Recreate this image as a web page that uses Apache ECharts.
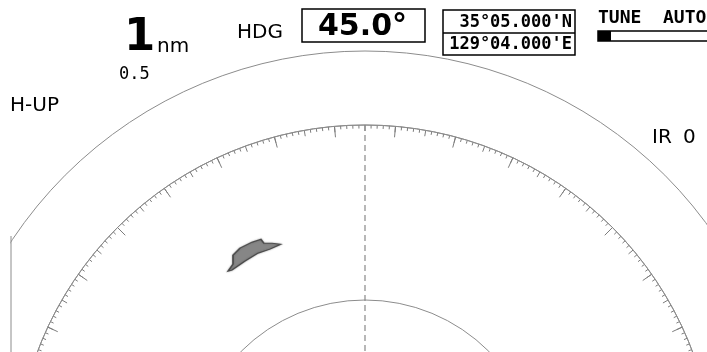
<!DOCTYPE html>
<html>
<head>
<meta charset="utf-8">
<script src="https://cdn.jsdelivr.net/npm/echarts@6/dist/echarts.min.js"></script>
<style>
  html, body { margin: 0; background: #fff; }
  #chart { width: 707px; height: 352px; }
</style>
</head>
<body>
<div id="chart"></div>
<script>
// display values
const headingDeg = 45.0;
const rangeNm = 1;
const ringStepNm = 0.5;
const latText = "35°05.000'N";
const lonText = "129°04.000'E";
const tuneMode = 'AUTO';
const irLevel = 0;
// bearing scale steps (deg)
const scaleSteps = [10, 5, 1];
// radar echoes: [range nm, true bearing deg]
const echoes = [[0.703, 18.3]];
// heading marker: [range nm, bearing deg]
const headingLine = [[rangeNm, headingDeg], [0, headingDeg]];

const CX = 365, CY = 475, R = 350, R_OUT = 424;
const ringColor = '#8c8c8c';
const tickColor = '#7c7c7c';
const txt = '#000';

const chart = echarts.init(document.getElementById('chart'));

// H-UP: heading at top, so bearing 0 sits headingDeg counter-clockwise of up
const startAngle = 90 + headingDeg;

function hiddenRadius(idx, extra) {
  return Object.assign({
    polarIndex: idx, type: 'value', min: 0, max: rangeNm,
    axisLine: { show: false }, axisTick: { show: false },
    axisLabel: { show: false }, splitLine: { show: false }
  }, extra || {});
}

function label(x, y, text, font, extra) {
  return {
    type: 'text', z: 60,
    style: Object.assign({ x: x, y: y, text: text, font: font, fill: txt, verticalAlign: 'middle' }, extra || {})
  };
}

const echoPath = 'path://M28,51 L33,44 L33,35 L40,28 L52,22 L61,19 L64,23 L72,23 L81,24 L70,29 L58,33 L45,41 L32,50 Z';

const option = {
  animation: false,
  polar: [
    { center: [CX, CY], radius: R },
    { center: [CX, CY], radius: R },
    { center: [CX, CY], radius: R_OUT }
  ],
  angleAxis: [
    {
      polarIndex: 0, type: 'value', min: 0, max: 360, interval: scaleSteps[1],
      startAngle: startAngle, clockwise: true,
      axisLine: { lineStyle: { color: ringColor, width: 1 } },
      axisTick: { inside: true, length: 6, lineStyle: { color: tickColor, width: 1 } },
      minorTick: { show: true, splitNumber: scaleSteps[1] / scaleSteps[2], length: 3.5, lineStyle: { color: tickColor, width: 1 } },
      axisLabel: { show: false }, splitLine: { show: false }
    },
    {
      polarIndex: 1, type: 'value', min: 0, max: 360, interval: scaleSteps[0],
      startAngle: startAngle, clockwise: true,
      axisLine: { show: false },
      axisTick: { inside: true, length: 11, lineStyle: { color: tickColor, width: 1 } },
      axisLabel: { show: false }, splitLine: { show: false }
    },
    {
      polarIndex: 2, type: 'value', min: 0, max: 360,
      startAngle: startAngle, clockwise: true,
      axisLine: { lineStyle: { color: ringColor, width: 1 } },
      axisTick: { show: false }, axisLabel: { show: false }, splitLine: { show: false }
    }
  ],
  radiusAxis: [
    hiddenRadius(0, { interval: ringStepNm, splitLine: { show: true, lineStyle: { color: ringColor, width: 1 } } }),
    hiddenRadius(1),
    hiddenRadius(2)
  ],
  series: [
    {
      type: 'line', coordinateSystem: 'polar', polarIndex: 0,
      data: headingLine, showSymbol: false, silent: true,
      lineStyle: { color: '#888', width: 1.2, type: [6, 4] }
    },
    {
      type: 'scatter', coordinateSystem: 'polar', polarIndex: 0,
      data: echoes, symbol: echoPath, symbolSize: [53, 32],
      itemStyle: { color: '#7c7c7c', borderColor: '#3c3c3c', borderWidth: 1.3, shadowBlur: 2, shadowColor: 'rgba(0,0,0,0.4)' }
    }
  ],
  graphic: [
    // screen edge on the left
    { type: 'rect', z: 50, shape: { x: 0, y: 228, width: 10.5, height: 130 }, style: { fill: '#fff' } },
    { type: 'line', z: 51, shape: { x1: 11, y1: 236, x2: 11, y2: 352 }, style: { stroke: ringColor, lineWidth: 1 } },

    label(124, 38, String(rangeNm), 'bold 45px "DejaVu Sans"'),
    label(157, 47, 'nm', '20px "DejaVu Sans"'),
    label(119, 75, String(ringStepNm), '17px "DejaVu Sans Mono"'),
    label(10, 106, 'H-UP', '20px "DejaVu Sans"'),

    label(237, 33, 'HDG', '20px "DejaVu Sans"'),
    { type: 'rect', z: 60, shape: { x: 302, y: 9, width: 123, height: 33 }, style: { fill: 'none', stroke: txt, lineWidth: 1.5 } },
    label(318, 27, headingDeg.toFixed(1) + '°', 'bold 30px "DejaVu Sans"'),

    { type: 'rect', z: 60, shape: { x: 443, y: 10, width: 132, height: 45 }, style: { fill: 'none', stroke: txt, lineWidth: 1.5 } },
    { type: 'line', z: 60, shape: { x1: 443, y1: 33, x2: 575, y2: 33 }, style: { stroke: txt, lineWidth: 1.5 } },
    label(572, 23, latText, 'bold 17px "DejaVu Sans Mono"', { align: 'right' }),
    label(572, 45, lonText, 'bold 17px "DejaVu Sans Mono"', { align: 'right' }),

    label(598, 18, 'TUNE  ' + tuneMode, 'bold 18px "DejaVu Sans Mono"'),
    { type: 'rect', z: 60, shape: { x: 598, y: 31, width: 120, height: 10 }, style: { fill: 'none', stroke: txt, lineWidth: 1.5 } },
    { type: 'rect', z: 61, shape: { x: 598, y: 31, width: 13, height: 10 }, style: { fill: txt } },

    label(652, 138, 'IR', '20px "DejaVu Sans"'),
    label(683, 138, String(irLevel), '20px "DejaVu Sans"')
  ]
};

chart.setOption(option);
</script>
</body>
</html>
